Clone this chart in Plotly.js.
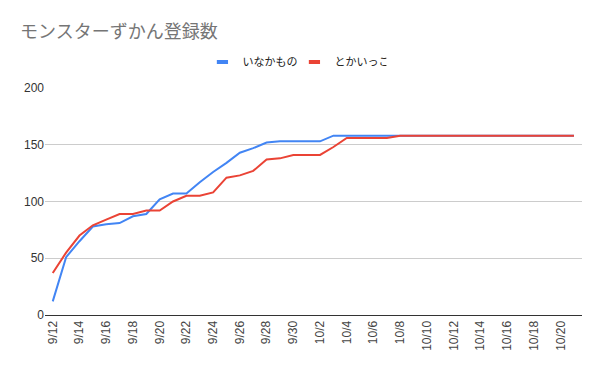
<!DOCTYPE html>
<html>
<head>
<meta charset="utf-8">
<script src="https://cdn.plot.ly/plotly-3.0.1.min.js"></script>
<style>html,body{margin:0;padding:0;background:#fff;}#chart{width:600px;height:371px;}</style>
</head>
<body>
<div id="chart"></div>
<script>
const dates = ["9/12","9/13","9/14","9/15","9/16","9/17","9/18","9/19","9/20","9/21","9/22","9/23","9/24","9/25","9/26","9/27","9/28","9/29","9/30",
  "10/1","10/2","10/3","10/4","10/5","10/6","10/7","10/8","10/9","10/10","10/11","10/12","10/13","10/14","10/15","10/16","10/17","10/18","10/19","10/20","10/21"];
const inakamono = [12,51,65,78,80,81,87,89,102,107,107,117,126,134,143,147,152,153,153,
  153,153,158,158,158,158,158,158,158,158,158,158,158,158,158,158,158,158,158,158,158];
const tokaikko = [37,55,70,79,84,89,89,92,92,100,105,105,108,121,123,127,137,138,141,
  141,141,148,156,156,156,156,158,158,158,158,158,158,158,158,158,158,158,158,158,158];
const tickLabels = dates.filter((d,i)=>i%2===0);
const seriesNames = ["いなかもの","とかいっこ"];
const colors = ["#4285F4","#EA4335"];

const traces = [
  {x: dates, y: inakamono, name: seriesNames[0], type: "scatter", mode: "lines", line: {color: colors[0], width: 2}, showlegend: false},
  {x: dates, y: tokaikko, name: seriesNames[1], type: "scatter", mode: "lines", line: {color: colors[1], width: 2}, showlegend: false}
];
// legend-only entries (no data) to get the short bar-style legend swatch
seriesNames.forEach((n,i)=>{
  traces.push({x: [null], y: [null], name: n, type: "scatter", mode: "markers",
    marker: {symbol: "line-ew-open", size: 8, color: colors[i], line: {color: colors[i], width: 4}}, showlegend: true});
});
const layout = {
  width: 600, height: 371,
  margin: {l: 45, r: 18, t: 88, b: 56},
  paper_bgcolor: "#fff", plot_bgcolor: "#fff",
  font: {family: "Arial, 'Liberation Sans', sans-serif", color: "#444"},
  title: {text: "モンスターずかん登録数", x: 0.0335, xanchor: "left", y: 0.915, yanchor: "middle",
    font: {family: "'Noto Sans CJK JP', sans-serif", size: 18, color: "#757575"}},
  showlegend: true,
  legend: {orientation: "h", x: 0.4645, xanchor: "center", y: 1.115, yanchor: "middle", entrywidth: 47,
    font: {family: "'Noto Sans CJK JP', sans-serif", size: 11, color: "#222"}, itemwidth: 30, traceorder: "normal"},
  xaxis: {type: "category", range: [-0.58, 39.6], tickmode: "array", tickvals: tickLabels, ticktext: tickLabels,
    tickangle: -90, showgrid: false, showline: true, linecolor: "#333", linewidth: 1, ticks: "",
    tickfont: {size: 12, color: "#444"}, zeroline: false, fixedrange: true},
  yaxis: {range: [0, 200], tickvals: [0,50,100,150,200], showgrid: true, gridcolor: "#cccccc",
    zeroline: false, showline: false, ticks: "", tickfont: {size: 12, color: "#333"}, fixedrange: true}
};
Plotly.newPlot("chart", traces, layout, {displayModeBar: false, staticPlot: true});
</script>
</body>
</html>
